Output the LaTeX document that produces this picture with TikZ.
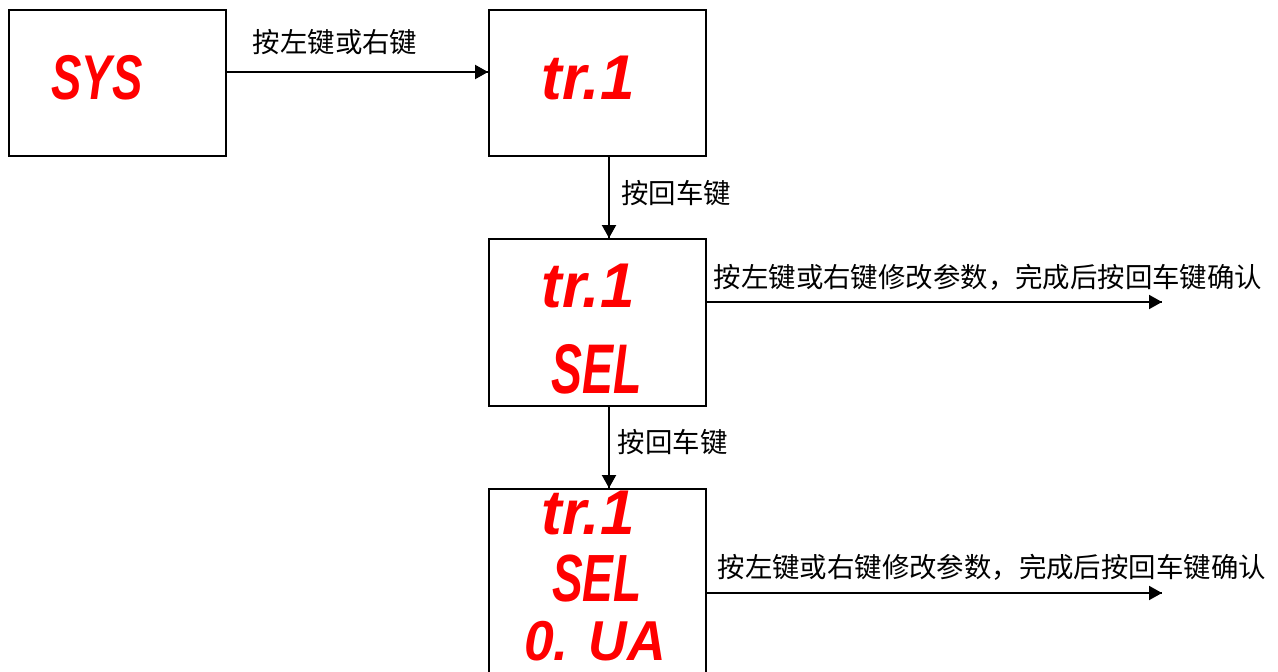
\documentclass[tikz,border=0pt]{standalone}
\usepackage{fontspec}
\newfontfamily\cjk{Noto Sans CJK SC}
\newfontfamily\segfont{Liberation Sans}
\usetikzlibrary{arrows.meta,decorations.markings}
\tikzstyle{disp} = [rectangle, draw=black, line width=1.1pt, minimum width=4.34cm, minimum height=2.92cm]
\tikzstyle{seg} = [rectangle, inner sep=0pt, text=red, font=\segfont\bfseries\itshape\fontsize{36}{40}\selectfont]
\tikzstyle{lbl} = [rectangle, inner sep=1pt, text=black, font=\cjk\fontsize{15.6}{19}\selectfont]

\begin{document}
\begin{tikzpicture}[x=0.02cm, y=-0.02cm]
    \tikzset{myptr/.style={line width=1.1pt, decoration={markings,mark=at position 1 with %
    {\arrow{Triangle[length=2.6mm,width=2.8mm]}}},postaction={decorate}}}
\useasboundingbox (0,0) rectangle (1278,672);
\clip (0,0) rectangle (1278,672);

\node (SYS) [disp] at (117.5,83) {};
\node (Tr1) [disp] at (597.5,83) {};
\node (Tr1Sel) [disp, minimum height=3.34cm] at (597.5,322.5) {};
\node (Tr1SelVa) [disp, minimum height=4cm] at (597.5,589) {};

\node (SYSTxt) [seg, xscale=0.72] at (97,78) {SYS};
\node (Tr1Txt) [seg, xscale=0.98] at (588,78) {tr.1};
\node (SelTr1Txt) [seg, xscale=0.98] at (588,286) {tr.1};
\node (SelTxt) [seg, xscale=0.66, font=\segfont\bfseries\itshape\fontsize{40}{44}\selectfont] at (597,369) {SEL};
\node (VaTr1Txt) [seg, xscale=0.98] at (588,513) {tr.1};
\node (VaSelTxt) [seg, xscale=0.69, font=\segfont\bfseries\itshape\fontsize{38}{42}\selectfont] at (597,579) {SEL};
\node (VaTxt) [seg, xscale=0.95, font=\segfont\bfseries\itshape\fontsize{32}{36}\selectfont] at (595,641) {0. UA};

\coordinate (SelOut) at (1162,302);
\coordinate (VaOut) at (1162,593);

\draw [myptr] ([yshift=0.22cm]SYS.east) -- node[lbl, xshift=-0.45cm, yshift=0.6cm] {按左键或右键} ([yshift=0.22cm]Tr1.west);
\draw [myptr] ([xshift=0.23cm]Tr1.south) -- node[lbl, anchor=west, xshift=0.19cm, yshift=0.09cm] {按回车键} ([xshift=0.23cm]Tr1Sel.north);
\draw [myptr] (Tr1Sel.east |- SelOut) -- node[lbl, anchor=west, pos=0, xshift=0.085cm, yshift=0.5cm] {按左键或右键修改参数，完成后按回车键确认} (SelOut);
\draw [myptr] ([xshift=0.23cm]Tr1Sel.south) -- node[lbl, anchor=west, xshift=0.125cm, yshift=0.11cm] {按回车键} ([xshift=0.23cm]Tr1SelVa.north);
\draw [myptr] (Tr1SelVa.east |- VaOut) -- node[lbl, anchor=west, pos=0, xshift=0.16cm, yshift=0.52cm] {按左键或右键修改参数，完成后按回车键确认} (VaOut);
\end{tikzpicture}
\end{document}
